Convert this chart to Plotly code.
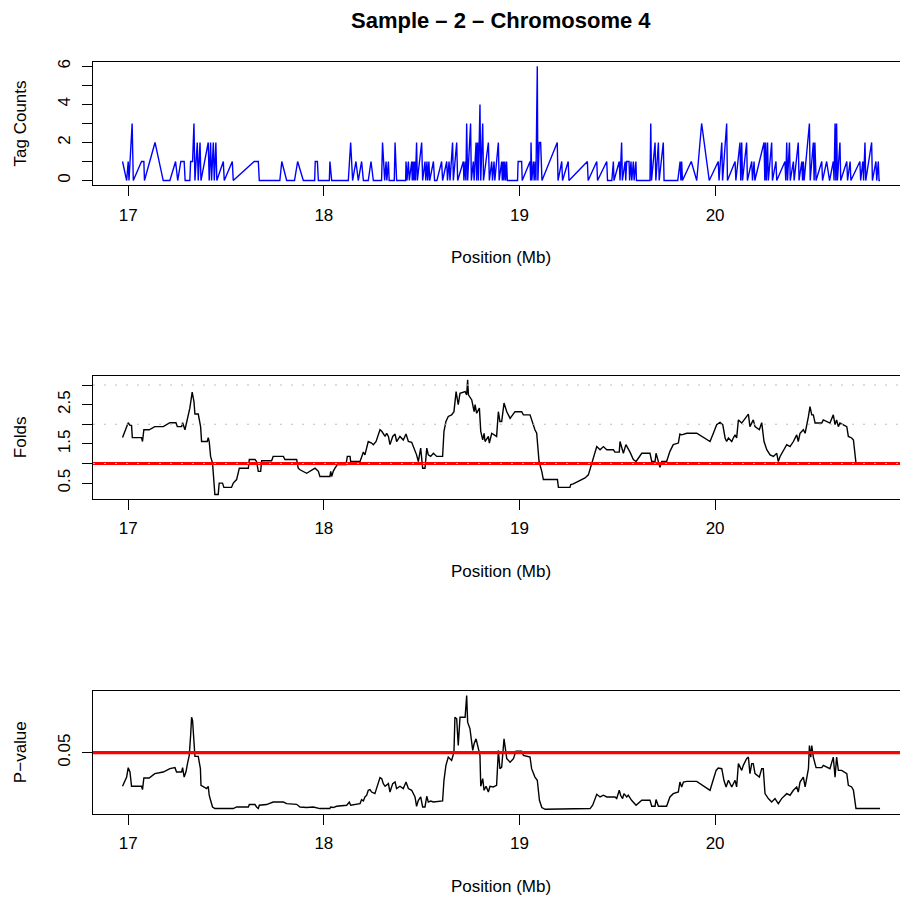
import plotly.graph_objects as go

# ---------------- data ----------------
tag_pos = [16.971, 16.992, 17.000, 17.004, 17.020, 17.026, 17.068, 17.080, 17.083, 17.137,
           17.179, 17.213, 17.242, 17.253, 17.269, 17.286, 17.291, 17.315, 17.319, 17.329,
           17.336, 17.341, 17.353, 17.358, 17.367, 17.372, 17.409, 17.414, 17.421, 17.426,
           17.435, 17.440, 17.448, 17.453, 17.486, 17.491, 17.532, 17.537, 17.644, 17.665,
           17.670, 17.775, 17.785, 17.810, 17.850, 17.866, 17.895, 17.953, 17.956, 17.967,
           17.972, 18.028, 18.031, 18.040, 18.125, 18.137, 18.147, 18.164, 18.176, 18.193,
           18.202, 18.227, 18.241, 18.253, 18.295, 18.300, 18.311, 18.318, 18.322, 18.330,
           18.334, 18.360, 18.364, 18.372, 18.418, 18.420, 18.425, 18.432, 18.437, 18.449,
           18.452, 18.456, 18.460, 18.464, 18.468, 18.474, 18.478, 18.500, 18.505, 18.517,
           18.521, 18.527, 18.531, 18.537, 18.541, 18.560, 18.566, 18.578, 18.602, 18.607,
           18.628, 18.632, 18.640, 18.645, 18.658, 18.662, 18.679, 18.684, 18.713, 18.716,
           18.722, 18.726, 18.730, 18.735, 18.750, 18.754, 18.764, 18.768, 18.778, 18.781,
           18.786, 18.790, 18.798, 18.802, 18.812, 18.816, 18.841, 18.846, 18.858, 18.862,
           18.870, 18.874, 18.892, 18.896, 18.909, 18.912, 18.917, 18.920, 18.925, 18.929,
           18.934, 18.938, 18.990, 18.993, 19.011, 19.014, 19.054, 19.057, 19.059, 19.063,
           19.071, 19.075, 19.080, 19.084, 19.091, 19.094, 19.101, 19.108, 19.115, 19.193,
           19.197, 19.216, 19.220, 19.249, 19.253, 19.347, 19.351, 19.395, 19.399, 19.446,
           19.450, 19.472, 19.480, 19.483, 19.510, 19.514, 19.522, 19.526, 19.540, 19.543,
           19.548, 19.560, 19.563, 19.570, 19.574, 19.582, 19.586, 19.595, 19.598, 19.667,
           19.671, 19.675, 19.693, 19.697, 19.710, 19.714, 19.735, 19.739, 19.809, 19.821,
           19.825, 19.829, 19.833, 19.878, 19.906, 19.931, 19.970, 20.016, 20.020, 20.034,
           20.038, 20.059, 20.063, 20.102, 20.106, 20.127, 20.131, 20.136, 20.140, 20.161,
           20.165, 20.187, 20.191, 20.199, 20.203, 20.250, 20.254, 20.258, 20.262, 20.268,
           20.272, 20.289, 20.293, 20.311, 20.315, 20.357, 20.361, 20.366, 20.370, 20.380,
           20.384, 20.400, 20.404, 20.425, 20.429, 20.443, 20.447, 20.451, 20.455, 20.482,
           20.486, 20.502, 20.506, 20.510, 20.516, 20.545, 20.549, 20.570, 20.585, 20.604,
           20.608, 20.613, 20.617, 20.621, 20.625, 20.638, 20.642, 20.673, 20.677, 20.690,
           20.694, 20.740, 20.744, 20.755, 20.759, 20.766, 20.770, 20.800, 20.804, 20.822,
           20.826, 20.834, 20.838, 20.843]
tag_counts = [1, 0, 1, 0, 3, 0, 1, 1, 0, 2,
              0, 0, 1, 0, 1, 1, 0, 0, 1, 1,
              3, 0, 2, 0, 2, 0, 2, 0, 2, 0,
              2, 0, 2, 0, 1, 0, 1, 0, 1, 1,
              0, 0, 1, 0, 0, 1, 0, 0, 1, 1,
              0, 0, 1, 0, 0, 2, 0, 1, 0, 1,
              0, 0, 1, 0, 0, 2, 0, 1, 0, 1,
              0, 0, 2, 0, 0, 1, 0, 1, 0, 1,
              0, 1, 0, 1, 0, 2, 0, 2, 0, 1,
              0, 1, 0, 1, 0, 1, 0, 0, 1, 0,
              1, 0, 1, 0, 2, 0, 2, 0, 1, 0,
              1, 0, 3, 0, 3, 0, 1, 0, 2, 0,
              2, 0, 4, 0, 3, 0, 2, 0, 1, 0,
              1, 0, 2, 0, 1, 0, 1, 0, 1, 0,
              1, 0, 0, 1, 1, 0, 1, 0, 2, 0,
              1, 0, 1, 0, 6, 0, 2, 2, 0, 2,
              0, 1, 0, 1, 0, 1, 0, 1, 0, 1,
              0, 0, 1, 0, 1, 0, 2, 0, 1, 0,
              1, 1, 0, 1, 0, 1, 0, 1, 0, 0,
              3, 0, 2, 0, 2, 0, 2, 0, 0, 1,
              0, 1, 0, 1, 0, 3, 0, 1, 0, 2,
              0, 3, 0, 1, 0, 2, 0, 2, 0, 2,
              0, 1, 0, 1, 0, 2, 0, 2, 0, 2,
              0, 2, 0, 1, 0, 1, 0, 2, 0, 2,
              0, 1, 0, 2, 0, 1, 0, 1, 0, 3,
              0, 2, 0, 2, 0, 1, 0, 1, 0, 1,
              0, 3, 0, 3, 0, 2, 0, 1, 0, 1,
              0, 1, 0, 1, 0, 2, 0, 2, 0, 1,
              0, 1, 0, 0]

fold_pos = [16.971, 17.000, 17.009, 17.017, 17.021, 17.068, 17.073, 17.080, 17.107, 17.136,
            17.179, 17.213, 17.244, 17.251, 17.273, 17.278, 17.290, 17.298, 17.307, 17.315,
            17.327, 17.336, 17.341, 17.358, 17.370, 17.375, 17.404, 17.409, 17.414, 17.421,
            17.431, 17.443, 17.460, 17.465, 17.482, 17.489, 17.528, 17.537, 17.554, 17.568,
            17.614, 17.619, 17.648, 17.656, 17.665, 17.677, 17.682, 17.733, 17.741, 17.793,
            17.801, 17.861, 17.869, 17.878, 17.912, 17.955, 17.972, 17.980, 18.031, 18.035,
            18.040, 18.048, 18.057, 18.069, 18.113, 18.120, 18.134, 18.137, 18.185, 18.193,
            18.202, 18.210, 18.219, 18.227, 18.244, 18.253, 18.267, 18.287, 18.296, 18.313,
            18.321, 18.330, 18.338, 18.352, 18.364, 18.372, 18.389, 18.406, 18.420, 18.432,
            18.449, 18.466, 18.474, 18.483, 18.495, 18.505, 18.517, 18.526, 18.534, 18.546,
            18.560, 18.577, 18.607, 18.614, 18.624, 18.636, 18.653, 18.665, 18.676, 18.687,
            18.696, 18.722, 18.730, 18.735, 18.739, 18.756, 18.768, 18.773, 18.781, 18.795,
            18.802, 18.812, 18.819, 18.824, 18.841, 18.846, 18.858, 18.883, 18.892, 18.900,
            18.909, 18.921, 18.935, 18.952, 18.977, 19.011, 19.020, 19.054, 19.062, 19.079,
            19.088, 19.100, 19.114, 19.122, 19.194, 19.199, 19.258, 19.262, 19.275, 19.335,
            19.352, 19.374, 19.395, 19.412, 19.429, 19.446, 19.480, 19.488, 19.510, 19.514,
            19.522, 19.531, 19.544, 19.556, 19.565, 19.582, 19.596, 19.625, 19.667, 19.676,
            19.693, 19.698, 19.710, 19.718, 19.727, 19.752, 19.769, 19.786, 19.812, 19.820,
            19.829, 19.855, 19.906, 19.974, 19.991, 20.008, 20.025, 20.039, 20.051, 20.059,
            20.068, 20.085, 20.093, 20.102, 20.110, 20.119, 20.136, 20.153, 20.170, 20.178,
            20.195, 20.204, 20.226, 20.238, 20.250, 20.264, 20.281, 20.298, 20.315, 20.323,
            20.332, 20.366, 20.383, 20.400, 20.417, 20.425, 20.434, 20.451, 20.460, 20.477,
            20.485, 20.494, 20.502, 20.511, 20.545, 20.553, 20.587, 20.604, 20.613, 20.621,
            20.630, 20.638, 20.673, 20.681, 20.698, 20.707, 20.720]
fold_values = [1.66, 2.04, 1.97, 1.97, 1.66, 1.66, 1.56, 1.86, 1.86, 1.94,
               1.94, 2.04, 2.04, 1.94, 1.94, 2.04, 1.86, 2.03, 2.20, 2.41,
               2.82, 2.58, 2.26, 2.26, 1.94, 1.56, 1.56, 1.66, 1.56, 1.18,
               1.01, 0.21, 0.21, 0.50, 0.50, 0.39, 0.39, 0.50, 0.59, 0.88,
               0.88, 1.10, 1.10, 1.05, 0.80, 0.80, 1.07, 1.07, 1.18, 1.18,
               1.10, 1.10, 0.88, 0.84, 0.75, 0.88, 0.80, 0.67, 0.67, 0.80,
               0.67, 0.80, 0.88, 0.97, 0.97, 1.18, 1.18, 1.05, 1.05, 1.18,
               1.29, 1.22, 1.43, 1.56, 1.52, 1.48, 1.56, 1.86, 1.82, 1.69,
               1.77, 1.69, 1.48, 1.69, 1.75, 1.56, 1.69, 1.60, 1.75, 1.56,
               1.54, 1.35, 1.22, 1.05, 1.39, 0.88, 0.88, 1.39, 1.22, 1.18,
               1.26, 1.18, 1.18, 1.82, 2.07, 2.20, 2.24, 2.32, 2.83, 2.50,
               2.79, 2.83, 2.75, 3.13, 2.75, 2.62, 2.32, 2.50, 2.28, 2.41,
               1.82, 1.60, 1.77, 1.56, 1.69, 1.52, 1.77, 1.69, 2.32, 2.07,
               2.07, 2.54, 2.32, 2.15, 2.32, 2.32, 2.24, 2.24, 2.11, 1.86,
               1.77, 1.05, 0.80, 0.59, 0.59, 0.39, 0.39, 0.46, 0.48, 0.63,
               0.71, 1.05, 1.43, 1.35, 1.43, 1.35, 1.35, 1.29, 1.29, 1.56,
               1.43, 1.26, 1.48, 1.39, 1.29, 1.10, 1.05, 1.26, 1.26, 1.05,
               1.05, 1.26, 1.05, 0.90, 1.05, 1.05, 1.31, 1.48, 1.52, 1.75,
               1.73, 1.77, 1.77, 1.56, 1.77, 1.99, 2.05, 1.99, 1.65, 1.56,
               1.65, 1.56, 1.65, 1.73, 1.65, 2.11, 2.03, 2.15, 2.26, 1.94,
               2.11, 1.94, 1.86, 2.04, 1.56, 1.35, 1.22, 1.18, 1.26, 1.05,
               1.18, 1.48, 1.43, 1.56, 1.73, 1.56, 1.77, 1.86, 1.77, 2.20,
               2.45, 2.24, 2.24, 2.03, 2.03, 2.11, 2.03, 2.24, 1.99, 2.11,
               1.94, 2.03, 1.94, 1.69, 1.65, 1.60, 1.01]

pval_pos = [16.971, 16.992, 17.000, 17.009, 17.017, 17.068, 17.073, 17.080, 17.107, 17.136,
            17.179, 17.213, 17.239, 17.247, 17.273, 17.278, 17.286, 17.295, 17.303, 17.312,
            17.319, 17.324, 17.329, 17.336, 17.341, 17.358, 17.369, 17.372, 17.401, 17.409,
            17.414, 17.421, 17.431, 17.443, 17.537, 17.554, 17.614, 17.619, 17.648, 17.656,
            17.665, 17.670, 17.707, 17.741, 17.793, 17.810, 17.861, 17.878, 17.912, 17.946,
            17.980, 18.031, 18.035, 18.048, 18.065, 18.117, 18.130, 18.137, 18.185, 18.193,
            18.202, 18.210, 18.219, 18.227, 18.236, 18.244, 18.261, 18.287, 18.296, 18.304,
            18.313, 18.330, 18.338, 18.352, 18.364, 18.372, 18.389, 18.406, 18.420, 18.432,
            18.449, 18.466, 18.474, 18.483, 18.495, 18.505, 18.517, 18.526, 18.534, 18.546,
            18.560, 18.607, 18.614, 18.624, 18.636, 18.653, 18.665, 18.670, 18.679, 18.687,
            18.696, 18.722, 18.730, 18.735, 18.747, 18.761, 18.768, 18.778, 18.790, 18.798,
            18.802, 18.812, 18.819, 18.829, 18.841, 18.849, 18.866, 18.883, 18.892, 18.900,
            18.909, 18.921, 18.935, 18.952, 18.969, 18.982, 19.011, 19.020, 19.054, 19.062,
            19.079, 19.091, 19.102, 19.114, 19.131, 19.361, 19.374, 19.395, 19.412, 19.429,
            19.446, 19.488, 19.497, 19.510, 19.517, 19.527, 19.534, 19.548, 19.556, 19.573,
            19.596, 19.607, 19.625, 19.667, 19.676, 19.693, 19.698, 19.710, 19.752, 19.769,
            19.786, 19.812, 19.820, 19.829, 19.838, 19.855, 19.906, 19.974, 19.991, 20.005,
            20.016, 20.034, 20.045, 20.056, 20.068, 20.085, 20.102, 20.110, 20.119, 20.136,
            20.144, 20.161, 20.170, 20.178, 20.187, 20.195, 20.204, 20.226, 20.238, 20.246,
            20.255, 20.272, 20.289, 20.306, 20.323, 20.340, 20.366, 20.383, 20.400, 20.417,
            20.425, 20.434, 20.451, 20.460, 20.477, 20.482, 20.489, 20.494, 20.502, 20.516,
            20.545, 20.553, 20.587, 20.604, 20.613, 20.621, 20.630, 20.647, 20.673, 20.681,
            20.698, 20.707, 20.720, 20.843]
pval_values = [0.0208, 0.0288, 0.0370, 0.0332, 0.0208, 0.0208, 0.0179, 0.0280, 0.0280, 0.0318,
               0.0332, 0.0361, 0.0370, 0.0332, 0.0332, 0.0370, 0.0288, 0.0332, 0.0405, 0.0477,
               0.0650, 0.0809, 0.0780, 0.0635, 0.0468, 0.0468, 0.0361, 0.0216, 0.0188, 0.0208,
               0.0130, 0.0086, 0.0028, 0.0014, 0.0014, 0.0028, 0.0028, 0.0049, 0.0049, 0.0028,
               0.0014, 0.0043, 0.0049, 0.0071, 0.0071, 0.0057, 0.0051, 0.0028, 0.0023, 0.0028,
               0.0014, 0.0014, 0.0028, 0.0023, 0.0034, 0.0043, 0.0071, 0.0043, 0.0057, 0.0092,
               0.0080, 0.0115, 0.0130, 0.0173, 0.0179, 0.0158, 0.0144, 0.0283, 0.0274, 0.0231,
               0.0208, 0.0231, 0.0158, 0.0231, 0.0245, 0.0188, 0.0208, 0.0188, 0.0245, 0.0188,
               0.0173, 0.0115, 0.0034, 0.0086, 0.0115, 0.0028, 0.0028, 0.0121, 0.0071, 0.0080,
               0.0071, 0.0080, 0.0260, 0.0390, 0.0462, 0.0433, 0.0505, 0.0809, 0.0795, 0.0563,
               0.0809, 0.0809, 0.0997, 0.0766, 0.0708, 0.0520, 0.0578, 0.0621, 0.0520, 0.0477,
               0.0208, 0.0274, 0.0173, 0.0208, 0.0158, 0.0208, 0.0202, 0.0216, 0.0520, 0.0361,
               0.0375, 0.0621, 0.0448, 0.0418, 0.0448, 0.0514, 0.0514, 0.0477, 0.0462, 0.0361,
               0.0288, 0.0260, 0.0086, 0.0023, 0.0008, 0.0014, 0.0043, 0.0138, 0.0115, 0.0130,
               0.0115, 0.0115, 0.0101, 0.0173, 0.0130, 0.0101, 0.0144, 0.0115, 0.0130, 0.0086,
               0.0043, 0.0057, 0.0086, 0.0086, 0.0034, 0.0034, 0.0092, 0.0034, 0.0034, 0.0115,
               0.0144, 0.0158, 0.0245, 0.0202, 0.0245, 0.0251, 0.0251, 0.0173, 0.0260, 0.0346,
               0.0366, 0.0361, 0.0260, 0.0202, 0.0260, 0.0202, 0.0260, 0.0202, 0.0405, 0.0346,
               0.0390, 0.0448, 0.0462, 0.0318, 0.0405, 0.0405, 0.0318, 0.0288, 0.0361, 0.0361,
               0.0144, 0.0101, 0.0071, 0.0101, 0.0057, 0.0101, 0.0144, 0.0130, 0.0173, 0.0202,
               0.0158, 0.0245, 0.0288, 0.0202, 0.0361, 0.0563, 0.0462, 0.0563, 0.0462, 0.0370,
               0.0370, 0.0390, 0.0361, 0.0462, 0.0288, 0.0462, 0.0346, 0.0346, 0.0318, 0.0216,
               0.0202, 0.0173, 0.0014, 0.0014]

x_ticks = [17, 18, 19, 20]
x_tick_labels = ["17", "18", "19", "20"]
tag_ticks = [0, 1, 2, 3, 4, 5, 6]
tag_tick_labels = ["0", "", "2", "", "4", "", "6"]
fold_ticks = [0.5, 1.0, 1.5, 2.0, 2.5, 3.0]
fold_tick_labels = ["0.5", "", "1.5", "", "2.5", ""]
fold_ref_lines = [1, 2, 3]
fold_threshold = 1.0
pval_ticks = [0.05]
pval_tick_labels = ["0.05"]
pval_threshold = 0.05

title_text = "Sample \u2013 2 \u2013 Chromosome 4"

# ---------------- layout ----------------
W, H = 900, 898
FONT = "Liberation Sans, Arial, Helvetica, sans-serif"
FS = 17
px_x = lambda v: v / W
px_y = lambda v: 1 - v / H

panels = [  # (top px, bottom px)
    (59, 182.7),
    (374, 497.3),
    (690, 813.3),
]
x_dom = [93 / W, 1.0]
x_range = [16.82, 20.945]

fig = go.Figure()
fig.add_trace(go.Scatter(x=tag_pos, y=tag_counts, mode="lines",
                         line=dict(color="#0000ff", width=1.4), xaxis="x", yaxis="y"))
fig.add_trace(go.Scatter(x=fold_pos, y=fold_values, mode="lines",
                         line=dict(color="black", width=1.4), xaxis="x2", yaxis="y2"))
fig.add_trace(go.Scatter(x=pval_pos, y=pval_values, mode="lines",
                         line=dict(color="black", width=1.4), xaxis="x3", yaxis="y3"))

def xaxis(anchor, top, bottom):
    return dict(domain=x_dom, range=x_range, anchor=anchor,
                tickvals=x_ticks, ticktext=x_tick_labels,
                ticks="outside", ticklen=10, tickwidth=1, tickcolor="black",
                showline=True, linecolor="black", linewidth=1.2, mirror=True,
                showgrid=False, zeroline=False, ticklabelstandoff=4,
                tickfont=dict(family=FONT, size=FS, color="black"))

def yaxis(anchor, top, bottom, rng, vals, texts):
    return dict(domain=[px_y(bottom), px_y(top)], range=rng, anchor=anchor,
                tickvals=vals, ticktext=texts, tickangle=-90,
                ticks="outside", ticklen=10, tickwidth=1, tickcolor="black",
                showline=True, linecolor="black", linewidth=1.2, mirror=False,
                showgrid=False, zeroline=False, ticklabelstandoff=5,
                tickfont=dict(family=FONT, size=FS, color="black"))

layout = dict(
    width=W, height=H, margin=dict(l=0, r=0, t=0, b=0),
    paper_bgcolor="white", plot_bgcolor="white", showlegend=False,
    xaxis=xaxis("y", *panels[0]),
    xaxis2=xaxis("y2", *panels[1]),
    xaxis3=xaxis("y3", *panels[2]),
    yaxis=yaxis("x", *panels[0], [-0.24, 6.24], tag_ticks, tag_tick_labels),
    yaxis2=yaxis("x2", *panels[1], [0.104, 3.236], fold_ticks, fold_tick_labels),
    yaxis3=yaxis("x3", *panels[2], [-0.00296, 0.10396], pval_ticks, pval_tick_labels),
)
fig.update_layout(**layout)

shapes = []
shapes.append(dict(type="line", xref="x2 domain", yref="y2", x0=0, x1=1,
                   y0=fold_threshold, y1=fold_threshold,
                   line=dict(color="#ff0000", width=3.2)))
for v in fold_ref_lines:
    shapes.append(dict(type="line", xref="x2 domain", yref="y2", x0=0, x1=1, y0=v, y1=v,
                       line=dict(color="#bdbdbd", width=1, dash="2px,9px")))
shapes.append(dict(type="line", xref="x3 domain", yref="y3", x0=0, x1=1,
                   y0=pval_threshold, y1=pval_threshold,
                   line=dict(color="#ff0000", width=3.2)))
fig.update_layout(shapes=shapes)

ann = []
ann.append(dict(text="<b>" + title_text + "</b>", x=px_x(501), y=px_y(18), xref="paper", yref="paper",
                showarrow=False, xanchor="center", yanchor="middle",
                font=dict(family=FONT, size=22, color="black")))
ylabels = ["Tag Counts", "Folds", "P\u2212value"]
for (top, bottom), lab in zip(panels, ylabels):
    ann.append(dict(text=lab, x=px_x(20), y=px_y((top + bottom) / 2), xref="paper", yref="paper",
                    showarrow=False, textangle=-90, xanchor="center", yanchor="middle",
                    font=dict(family=FONT, size=FS, color="black")))
    ann.append(dict(text="Position (Mb)", x=px_x(501), y=px_y(bottom + 73), xref="paper", yref="paper",
                    showarrow=False, xanchor="center", yanchor="middle",
                    font=dict(family=FONT, size=FS, color="black")))
fig.update_layout(annotations=ann)

fig.write_html("out.html", config={"displayModeBar": False},
               post_script="document.body.style.margin='0';document.body.style.overflow='hidden';")
